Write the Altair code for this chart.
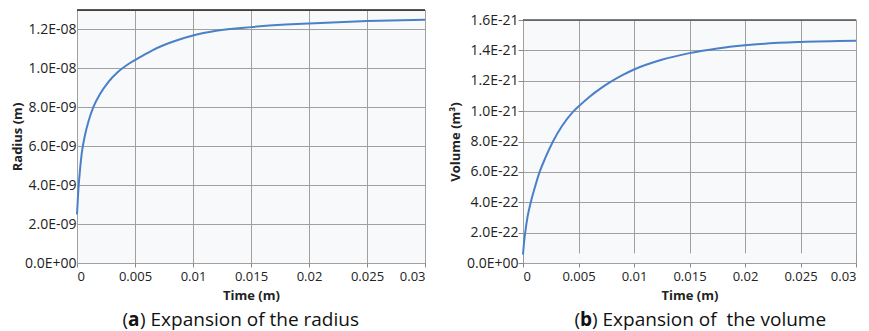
import altair as alt
import pandas as pd

# ---- data ----
radius_time = [0, 0.0001, 0.0002, 0.0004, 0.0007, 0.001, 0.0014, 0.002, 0.0027, 0.0035,
               0.0045, 0.0055, 0.0065, 0.0075, 0.0085, 0.01, 0.012, 0.015, 0.018, 0.02,
               0.025, 0.03]
radius_vals = [2.5e-9, 3.6e-9, 4.4e-9, 5.6e-9, 6.6e-9, 7.3e-9, 8.0e-9, 8.7e-9, 9.3e-9, 9.8e-9,
               10.25e-9, 10.6e-9, 10.93e-9, 11.2e-9, 11.42e-9, 11.69e-9, 11.93e-9, 12.12e-9, 12.25e-9, 12.31e-9,
               12.43e-9, 12.5e-9]

volume_time = [0, 0.0001, 0.0002, 0.0004, 0.0007, 0.001, 0.0015, 0.002, 0.0027, 0.0035,
               0.0045, 0.005, 0.006, 0.007, 0.008, 0.009, 0.01, 0.0125, 0.015, 0.0175,
               0.02, 0.025, 0.03]
volume_vals = [0.55e-22, 1.4e-22, 2.0e-22, 3.0e-22, 4.0e-22, 4.8e-22, 6.0e-22, 6.9e-22, 8.0e-22, 9.0e-22,
               9.95e-22, 10.3e-22, 10.95e-22, 11.5e-22, 11.97e-22, 12.38e-22, 12.74e-22, 13.38e-22, 13.82e-22, 14.13e-22,
               14.34e-22, 14.55e-22, 14.63e-22]

x_ticks = [0, 0.005, 0.01, 0.015, 0.02, 0.025, 0.03]
radius_ticks = [0, 2e-9, 4e-9, 6e-9, 8e-9, 1e-8, 1.2e-8]
volume_ticks = [0, 2e-22, 4e-22, 6e-22, 8e-22, 1e-21, 1.2e-21, 1.4e-21, 1.6e-21]

x_title = "Time (m)"
radius_title = "Radius (m)"
volume_title = "Volume (m³)"
caption_a = ["(", "a", ") Expansion of the radius"]
caption_b = ["(", "b", ") Expansion of\u00a0 the volume"]

FONT = "Open Sans"
BLUE = "#4a80c8"

sci_expr = (
    "datum.value == 0 ? '0.0E+00' : "
    "format(datum.value / pow(10, floor(log(datum.value)/LN10 + 1e-6)), '.1f') + 'E-' + "
    "(abs(floor(log(datum.value)/LN10 + 1e-6)) < 10 ? '0' : '') + "
    "abs(floor(log(datum.value)/LN10 + 1e-6))"
)

rad_df = pd.DataFrame({"t": radius_time, "v": radius_vals})
vol_df = pd.DataFrame({"t": volume_time, "v": volume_vals})

ONE = alt.Data(values=[{}])


def axis_x():
    return alt.Axis(values=x_ticks, format="~g", title=x_title, grid=True, tickSize=4)


def axis_y(ticks, title, tick_size, title_pad, label_pad):
    return alt.Axis(values=ticks, labelExpr=sci_expr, title=title, grid=True, labelFontSize=14,
                    tickSize=tick_size, titlePadding=title_pad, labelPadding=label_pad)


def caption(parts, x0, a_w, y):
    c1 = alt.Chart(ONE).mark_text(align="right", baseline="alphabetic", fontSize=19, font=FONT,
                                  color="#111").encode(
        x=alt.value(x0), y=alt.value(y), text=alt.value(parts[0]))
    c2 = alt.Chart(ONE).mark_text(align="left", baseline="alphabetic", fontSize=19, font=FONT,
                                  fontWeight="bold", color="#111").encode(
        x=alt.value(x0), y=alt.value(y), text=alt.value(parts[1]))
    c3 = alt.Chart(ONE).mark_text(align="left", baseline="alphabetic", fontSize=19, font=FONT,
                                  color="#111").encode(
        x=alt.value(x0 + a_w), y=alt.value(y), text=alt.value(parts[2]))
    return [c1, c2, c3]


def top_border(w, y, color):
    return alt.Chart(ONE).mark_rule(color=color, strokeWidth=1.5).encode(
        x=alt.value(0), x2=alt.value(w), y=alt.value(y))


W1, H = 348, 253
W2 = 333
TOP2 = 10

line1 = alt.Chart(rad_df).mark_line(color=BLUE, strokeWidth=2, interpolate="monotone").encode(
    x=alt.X("t:Q", scale=alt.Scale(domain=[0, 0.03], nice=False), axis=axis_x()),
    y=alt.Y("v:Q", scale=alt.Scale(domain=[0, 1.3e-8], nice=False),
            axis=axis_y(radius_ticks, radius_title, 0, 0, 1)),
)
left = alt.layer(line1, top_border(W1, 0, "#222"), *caption(caption_a, 51, 12, 316)).properties(
    width=W1, height=H)

line2 = alt.Chart(vol_df).mark_line(color=BLUE, strokeWidth=2, interpolate="monotone").encode(
    x=alt.X("t:Q", scale=alt.Scale(domain=[0, 0.03], nice=False), axis=axis_x()),
    y=alt.Y("v:Q", scale=alt.Scale(domain=[0, 1.6e-21], range=[H, TOP2], nice=False),
            axis=axis_y(volume_ticks, volume_title, 5, 4, 0)),
)
cover = alt.Chart(ONE).mark_rect(color="white").encode(
    x=alt.value(-1), x2=alt.value(W2 + 1), y=alt.value(-1), y2=alt.value(TOP2 - 0.5))
right = alt.layer(line2, cover, top_border(W2, TOP2, "#555"), *caption(caption_b, 57, 12, 316)).properties(
    width=W2, height=H)

chart = alt.hconcat(left, right, spacing=19).properties(
    padding={"left": 3, "top": 0, "right": 0, "bottom": 0}
).configure_view(
    fill="#f8f9fa", stroke="#999", strokeWidth=1
).configure_axis(
    domain=False,
    gridColor="#a0a0a0", gridWidth=1, gridOpacity=1,
    tickColor="#888",
    labelFont=FONT, labelFontSize=13, labelColor="#222",
    titleFont=FONT, titleFontSize=13, titleFontWeight="bold", titleColor="#222",
).configure_axisX(titlePadding=6, labelPadding=3)

chart.save("out.html", embed_options={"renderer": "svg", "actions": False})
